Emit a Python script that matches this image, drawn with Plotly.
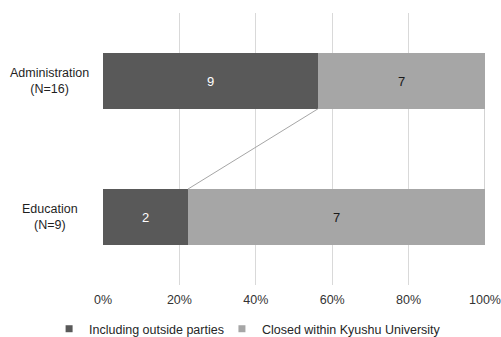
import plotly.graph_objects as go

categories = ["Administration", "Education"]
n_labels = ["(N=16)", "(N=9)"]
series_names = ["Including outside parties", "Closed within Kyushu University"]
outside_counts = [9, 2]
closed_counts = [7, 7]
x_ticks = [0, 20, 40, 60, 80, 100]

colors = ["#595959", "#A6A6A6"]
text_colors = ["#FFFFFF", "#1A1A1A"]
bar_width = 0.41
FONT = "Liberation Sans, Arial, sans-serif"

totals = [a + b for a, b in zip(outside_counts, closed_counts)]
pct_out = [a / t * 100 for a, t in zip(outside_counts, totals)]
pct_closed = [b / t * 100 for b, t in zip(closed_counts, totals)]
ypos = [len(categories) - 1 - i for i in range(len(categories))]  # top to bottom

fig = go.Figure()
series = [
    (series_names[0], pct_out, outside_counts, colors[0], text_colors[0]),
    (series_names[1], pct_closed, closed_counts, colors[1], text_colors[1]),
]
for name, pcts, counts, col, tcol in series:
    fig.add_trace(go.Bar(
        x=pcts, y=ypos, orientation="h", name=name, legendgroup=name,
        showlegend=False,
        marker=dict(color=col, line=dict(width=0)),
        width=bar_width,
        text=[str(c) for c in counts], textposition="inside",
        insidetextanchor="middle",
        textfont=dict(color=tcol, size=13, family=FONT),
        hoverinfo="skip",
    ))

# series lines between the bars
cum1 = pct_out
cum2 = [a + b for a, b in zip(pct_out, pct_closed)]
for cum in (cum1, cum2):
    xs, ys = [], []
    for i in range(len(categories) - 1):
        xs += [cum[i], cum[i + 1], None]
        ys += [ypos[i] - bar_width / 2, ypos[i + 1] + bar_width / 2, None]
    fig.add_trace(go.Scatter(
        x=xs, y=ys, mode="lines", showlegend=False,
        line=dict(color="#A6A6A6", width=1), hoverinfo="skip",
    ))

# legend entries with small square keys (one legend per entry)
legend_ids = ["legend", "legend2"]
for (name, _, _, col, _), lid in zip(series, legend_ids):
    fig.add_trace(go.Scatter(
        x=[None], y=[None], mode="markers", name=name, legendgroup=name,
        marker=dict(symbol="square", size=7, color=col), legend=lid,
    ))

for i, (c, n) in enumerate(zip(categories, n_labels)):
    fig.add_annotation(
        x=-0.139, xref="paper", y=ypos[i], yref="y",
        text=f"{c}<br>{n}", showarrow=False, align="center",
        xanchor="center", yanchor="middle",
        font=dict(size=12.5, color="#1F1F1F", family=FONT),
    )

legend_common = dict(
    orientation="h", xref="container", yref="paper",
    xanchor="left", y=-0.107, yanchor="top",
    font=dict(size=12.5, color="#262626", family=FONT),
    itemwidth=30, bgcolor="rgba(0,0,0,0)",
)

fig.update_layout(
    barmode="stack",
    width=501, height=337,
    margin=dict(l=103, r=16, t=13, b=52, autoexpand=False),
    paper_bgcolor="white", plot_bgcolor="white",
    font=dict(family=FONT, size=12.5, color="#333333"),
    xaxis=dict(
        range=[0, 100], tickvals=x_ticks,
        ticktext=[f"{v}%" for v in x_ticks],
        showgrid=True, gridcolor="#D9D9D9", gridwidth=1,
        zeroline=False, showline=False, automargin=False,
        ticks="outside", ticklen=3, tickcolor="rgba(0,0,0,0)",
        tickfont=dict(size=12.5, color="#333333"),
    ),
    yaxis=dict(
        range=[-0.5, len(categories) - 0.5],
        showticklabels=False, showgrid=False, zeroline=False,
        showline=False, ticks="", automargin=False,
    ),
    legend=dict(x=0.098, **legend_common),
    legend2=dict(x=0.443, **legend_common),
    bargap=0,
)

fig.write_html("out.html")
